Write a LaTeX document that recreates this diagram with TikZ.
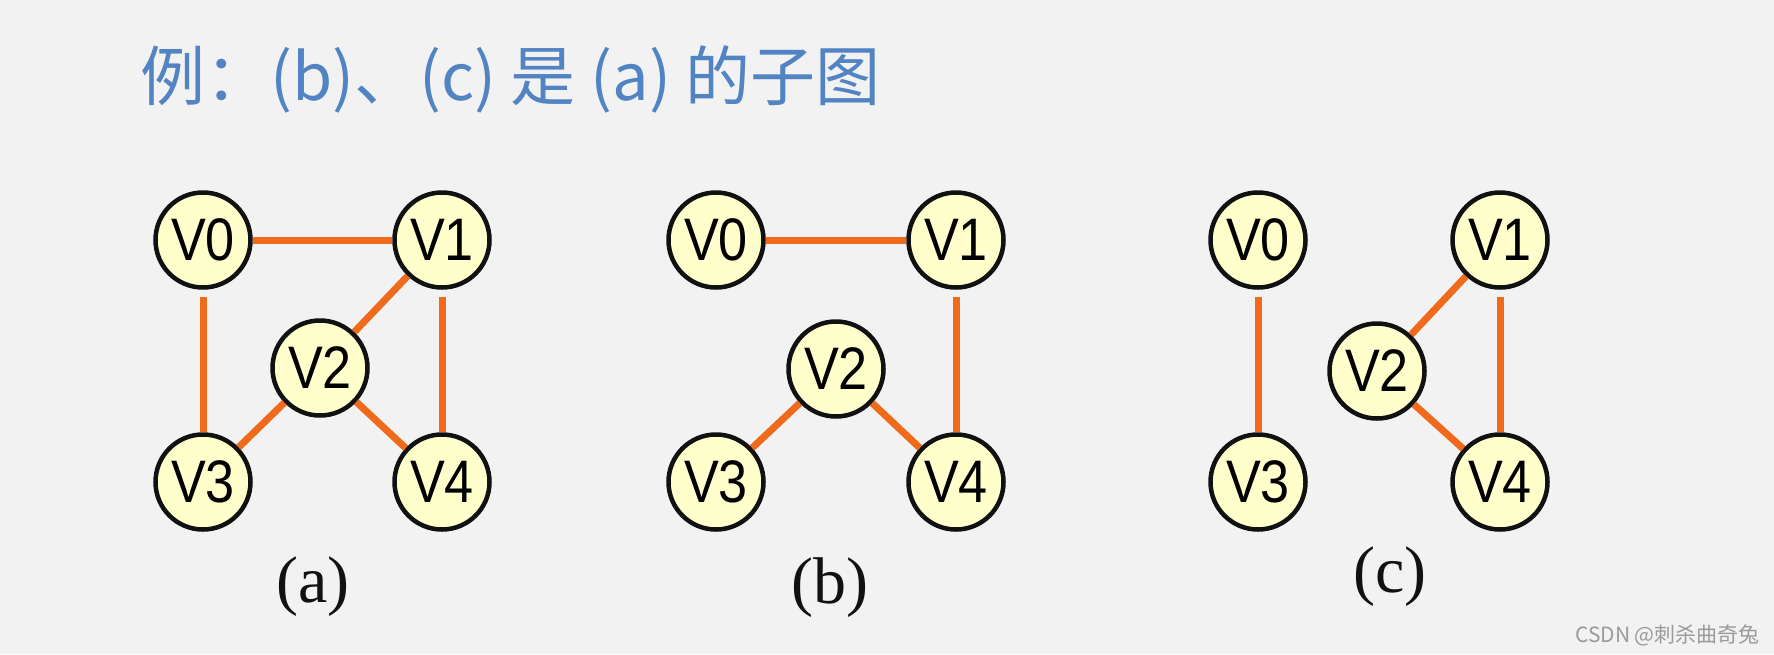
\documentclass[tikz,border=0pt]{standalone}
\usepackage{fontspec}
\usepackage{tikz}
\usetikzlibrary{positioning}
\setsansfont{Liberation Sans}
\newfontfamily\cjk{Noto Sans CJK SC}
\newfontfamily\vfont[FakeStretch=0.87]{Liberation Sans}
\newfontfamily\capfont{Liberation Serif}
\definecolor{ink}{HTML}{111111}
\definecolor{paper}{HTML}{F2F2F2}
\definecolor{vfill}{HTML}{FFFFCC}
\definecolor{orange}{HTML}{F06A1C}
\definecolor{titleblue}{HTML}{5283C2}
\definecolor{gray}{HTML}{9A9A9A}
\tikzset{
  vertex/.style={circle, draw=ink, fill=vfill, line width=4.5pt, minimum size=95pt, inner sep=0pt, font=\vfont\fontsize{60}{64}\selectfont},
  edge/.style={draw=orange, line width=7pt},
  vedge/.style={edge, shorten <=7pt},
  caption/.style={font=\capfont\fontsize{66}{70}\selectfont, text=ink},
  title/.style={font=\cjk\fontsize{65}{70}\selectfont, text=titleblue, anchor=west, inner sep=0pt},
  watermark/.style={font=\cjk\fontsize{21}{24}\selectfont, text=gray, anchor=east, inner sep=0pt},
}
\begin{document}
\begin{tikzpicture}[x=1pt,y=-1pt]
\fill[paper] (0,0) rectangle (1774,654);
\useasboundingbox (0,0) rectangle (1774,654);
\node[title] (head) at (140,79) {例：(b)、(c) 是 (a) 的子图};
% (a)
\node[vertex] (a0) at (203,240) {V0};
\node[vertex] (a1) at (442,240) {V1};
\node[vertex] (a2) at (320,368) {V2};
\node[vertex] (a3) at (203,482) {V3};
\node[vertex] (a4) at (442,482) {V4};
\draw[edge] (a0) -- (a1);
\draw[vedge] (a0) -- (a3);
\draw[vedge] (a1) -- (a4);
\draw[edge] (a1) -- (a2);
\draw[edge] (a2) -- (a3);
\draw[edge] (a2) -- (a4);
\node[caption] (capa) at (313,587) {(a)};
% (b)
\node[vertex] (b0) at (716,240) {V0};
\node[vertex] (b1) at (956,240) {V1};
\node[vertex] (b2) at (836,369) {V2};
\node[vertex] (b3) at (716,482) {V3};
\node[vertex] (b4) at (956,482) {V4};
\draw[edge] (b0) -- (b1);
\draw[vedge] (b1) -- (b4);
\draw[edge] (b2) -- (b3);
\draw[edge] (b2) -- (b4);
\node[caption] (capb) at (830,588) {(b)};
% (c)
\node[vertex] (c0) at (1258,240) {V0};
\node[vertex] (c1) at (1500,240) {V1};
\node[vertex] (c2) at (1377,371) {V2};
\node[vertex] (c3) at (1258,482) {V3};
\node[vertex] (c4) at (1500,482) {V4};
\draw[vedge] (c0) -- (c3);
\draw[vedge] (c1) -- (c4);
\draw[edge] (c1) -- (c2);
\draw[edge] (c2) -- (c4);
\node[caption] (capc) at (1390,577) {(c)};
\node[watermark] (mark) at (1760,635) {CSDN @刺杀曲奇兔};
\end{tikzpicture}
\end{document}
